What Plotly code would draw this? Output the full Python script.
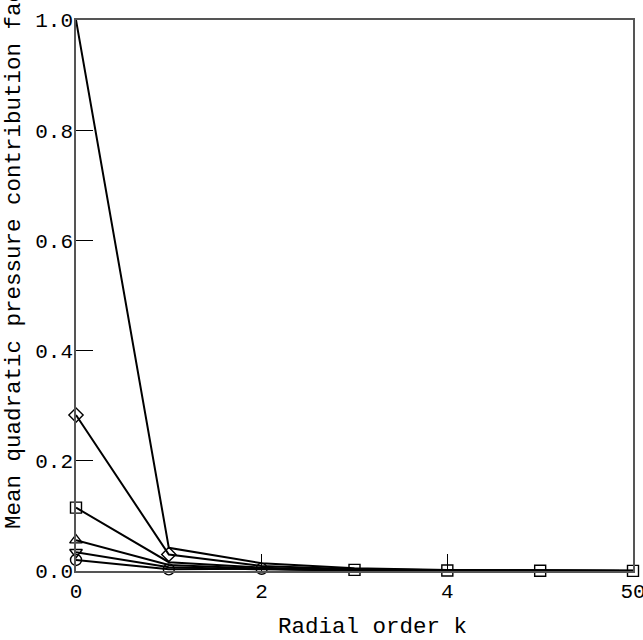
import plotly.graph_objects as go

# Radial order k and mean quadratic pressure contribution factor per series
radial_order = [0, 1, 2, 3, 4, 5, 6]

series_a = [1.0, 0.042, 0.014, 0.005, 0.002, 0.001, 0.0005]
series_diamond = [0.283, 0.030, 0.009, 0.003, 0.0015, 0.0008, 0.0004]
series_square = [0.115, 0.016, 0.006, 0.002, 0.001, 0.0005, 0.0003]
series_tri_up = [0.056, 0.011, 0.004, 0.0015, 0.0008, 0.0004, 0.0002]
series_tri_down = [0.034, 0.007, 0.003, 0.001, 0.0006, 0.0003, 0.0002]
series_circle = [0.020, 0.003, 0.004, 0.001, 0.0005, 0.0003, 0.0002]

x_tick_vals = [0, 2, 4, 6]
x_tick_text = ["0", "2", "4", "50"]
y_tick_vals = [0.0, 0.2, 0.4, 0.6, 0.8, 1.0]
y_tick_text = ["0.0", "0.2", "0.4", "0.6", "0.8", "1.0"]

FONT = "Liberation Mono, Courier New, monospace"

# (values, marker symbol, indices that carry a marker)
series = [
    (series_a, None, []),
    (series_diamond, "diamond-open", [0, 1]),
    (series_square, "square-open", [0, 3, 4, 5, 6]),
    (series_tri_up, "triangle-up-open", [0]),
    (series_tri_down, "triangle-down-open", [0]),
    (series_circle, "circle-open", [0, 1, 2]),
]

fig = go.Figure()
for values, symbol, idx in series:
    fig.add_trace(go.Scatter(
        x=radial_order, y=values, mode="lines",
        line=dict(color="black", width=2), showlegend=False,
        cliponaxis=False,
    ))
for values, symbol, idx in series:
    if not symbol:
        continue
    fig.add_trace(go.Scatter(
        x=[radial_order[i] for i in idx], y=[values[i] for i in idx],
        mode="markers", showlegend=False, cliponaxis=False,
        marker=dict(symbol=symbol, size=11, color="black",
                    line=dict(color="black", width=1.4)),
    ))

axis_common = dict(
    showgrid=False, zeroline=False, mirror=True, showline=True,
    linecolor="#555", linewidth=1.5,
    ticks="inside", ticklen=17, tickwidth=1, tickcolor="black",
    tickfont=dict(family=FONT, size=21, color="black"),
    ticklabeloverflow="allow", automargin=False,
)

fig.update_layout(
    width=643, height=640,
    margin=dict(l=76, r=10, t=20, b=69),
    paper_bgcolor="white", plot_bgcolor="white",
    xaxis=dict(range=[0, 6], tickvals=x_tick_vals, ticktext=x_tick_text,
               ticklabelstandoff=0, **axis_common),
    yaxis=dict(range=[0, 1.0], tickvals=y_tick_vals, ticktext=y_tick_text,
               ticklabelstandoff=-3, **axis_common),
    annotations=[
        dict(text="Radial order k", xref="paper", yref="paper",
             x=0.532, y=-0.102, xanchor="center", yanchor="middle",
             showarrow=False, font=dict(family=FONT, size=22.5, color="black")),
        dict(text="Mean quadratic pressure contribution factor",
             xref="paper", yref="paper", textangle=-90,
             x=-0.11, y=0.073, xanchor="center", yanchor="bottom",
             showarrow=False, font=dict(family=FONT, size=22.5, color="black")),
    ],
)

fig.write_html("out.html")
